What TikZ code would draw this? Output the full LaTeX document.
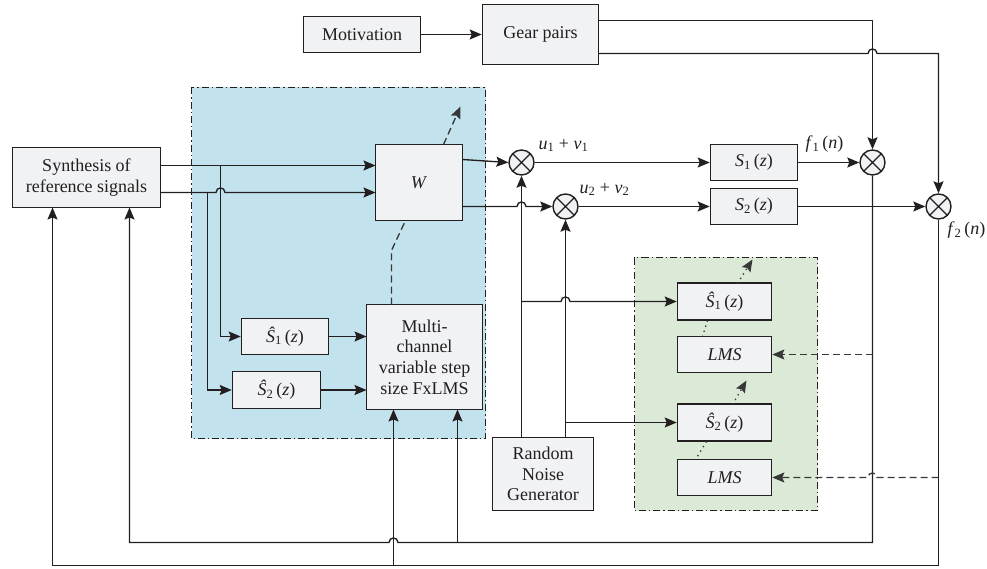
\documentclass[tikz,border=0pt]{standalone}
\usepackage{fontspec}
\setmainfont{Liberation Serif}
\usetikzlibrary{arrows.meta}
\definecolor{lc}{HTML}{231F20}
\definecolor{boxfill}{HTML}{F1F2F4}
\definecolor{bluefill}{HTML}{C2E2EE}
\definecolor{greenfill}{HTML}{DBEAD6}
\definecolor{dashc}{HTML}{383838}
\newcommand{\ShatZ}[1]{\textit{\^{S}}\textsubscript{#1}\,(\textit{z})}
\newcommand{\SofZ}[1]{\textit{S}\textsubscript{#1}\,(\textit{z})}
\begin{document}
\begin{tikzpicture}[x=1bp,y=-1bp, color=lc,
  font=\fontsize{18bp}{20.7bp}\selectfont,
  line width=1.35bp,
  box/.style={draw=lc, line width=1.6bp, fill=boxfill, inner sep=0pt, align=center, text=lc},
  sumc/.style={circle, draw=lc, line width=1.4bp, fill=boxfill, minimum size=25bp, inner sep=0pt,
    path picture={\draw[line width=1.35bp] (path picture bounding box.south west) -- (path picture bounding box.north east)
      (path picture bounding box.north west) -- (path picture bounding box.south east);}},
  arr/.style={-{Stealth[length=12bp,width=10bp,inset=2bp]}},
  region/.style={draw=lc, line width=1.3bp, dash pattern=on 7bp off 3bp on 1.3bp off 3bp},
  dsh/.style={draw=dashc, dash pattern=on 7bp off 4bp},
  dtt/.style={draw=dashc, dash pattern=on 1.3bp off 4bp},
  lbl/.style={text=lc, inner sep=0pt}
]
\useasboundingbox (0,0) rectangle (987,569);
\begin{scope}[shift={(0.5,0.5)}]
% regions
\path[region, fill=bluefill] (191,87) rectangle (485,438);
\path[region, fill=greenfill] (634,257) rectangle (817,510);

% nodes
\node[box, minimum width=117bp, minimum height=36bp] (mot) at (361.5,34) {Motivation};
\node[box, minimum width=116bp, minimum height=60bp] (gear) at (540,34) {Gear pairs};
\node[box, minimum width=148bp, minimum height=60bp] (syn) at (86,177) {Synthesis of\\reference signals};
\node[box, minimum width=87bp, minimum height=76bp] (W) at (418.5,182) {\textit{W}};
\node[box, minimum width=87bp, minimum height=36bp] (s1hb) at (284.5,336) {\ShatZ{1}};
\node[box, minimum width=88bp, minimum height=37bp] (s2hb) at (276,389.5) {\ShatZ{2}};
\node[box, minimum width=116bp, minimum height=105bp] (fx) at (424,356.5) {Multi-\\channel\\variable step\\size FxLMS};
\node[sumc] (su1) at (521,162) {};
\node[sumc] (su2) at (565,206) {};
\node[box, minimum width=87bp, minimum height=36bp] (S1) at (753.5,162) {\SofZ{1}};
\node[box, minimum width=87bp, minimum height=36bp] (S2) at (753.5,206) {\SofZ{2}};
\node[sumc] (sum1) at (872,162) {};
\node[sumc] (sum2) at (938,206) {};
\node[box, minimum width=101bp, minimum height=73bp] (rng) at (542.5,473.5) {Random\\Noise\\Generator};
\node[box, minimum width=94bp, minimum height=37bp] (s1hg) at (724,301) {\ShatZ{1}};
\node[box, minimum width=94bp, minimum height=36bp] (lms1) at (724,354) {\textit{LMS}};
\node[box, minimum width=94bp, minimum height=37bp] (s2hg) at (724,422) {\ShatZ{2}};
\node[box, minimum width=94bp, minimum height=36bp] (lms2) at (724,477) {\textit{LMS}};

% labels
\node[lbl] (lu1) at (563,145) {\textit{u}\textsubscript{1} + \textit{v}\textsubscript{1}};
\node[lbl] (lu2) at (604,189) {\textit{u}\textsubscript{2} + \textit{v}\textsubscript{2}};
\node[lbl] (lf1) at (824,144) {\textit{f}\textsubscript{1}\,(\textit{n})};
\node[lbl] (lf2) at (966,230) {\textit{f}\textsubscript{2}\,(\textit{n})};

% top connectors
\draw[arr] (mot.east) -- (gear.west);
\draw[arr] (598,20) -| (sum1.north);
\draw[arr] (598,53) -- (867.5,53) .. controls (867.5,47) and (876.5,47) .. (876.5,53) -| (sum2.north);

% synthesis outputs
\draw[arr] (160,165) -- (375,165);
\draw[arr] (160,192) -- (215.5,192) .. controls (215.5,186) and (224.5,186) .. (224.5,192) -- (375,192);
\draw[arr] (220,165) |- (s1hb.west);
\draw[arr] (207,192) |- (s2hb.west);
\draw[arr] (s1hb.east) -- (366,336);
\draw[arr] (s2hb.east) -- (366,389.5);

% adaptive dashed
\draw[dsh] (391,304) -- (391,250) -- (405,220);
\draw[dsh, arr] (443,144) -- (460,106);

% W outputs
\draw[arr] (462,159) -- (su1.west);
\draw[arr] (462,206) -- (516.5,206) .. controls (516.5,200) and (525.5,200) .. (525.5,206) -- (su2.west);
\draw[arr] (su1.east) -- (S1.west);
\draw[arr] (su2.east) -- (S2.west);
\draw[arr] (S1.east) -- (sum1.west);
\draw[arr] (S2.east) -- (sum2.west);

% random noise
\draw[arr] (521,437) -- (su1.south);
\draw[arr] (565,437) -- (su2.south);
\draw[arr] (521,301) -- (560.5,301) .. controls (560.5,295) and (569.5,295) .. (569.5,301) -- (s1hg.west);
\draw[arr] (565,422) -- (s2hg.west);

% error feedback
\draw[arr] (sum1.south) -- (872,542) -- (397.5,542) .. controls (397.5,536) and (388.5,536) .. (388.5,542) -- (129,542) -- (129,207);
\draw[arr] (457,542) -- (457,409);
\draw[arr] (sum2.south) -- (938,565) -- (52,565) -- (52,207);
\draw[arr] (393,565) -- (393,409);

% dashed to LMS
\draw[dsh, arr] (872,354) -- (lms1.east);
\draw[dsh, arr] (938,477) -- (876.5,477) .. controls (876.5,471) and (867.5,471) .. (867.5,477) -- (lms2.east);

% dotted
\draw[dtt] (707,320) -- (702,336);
\draw[dtt, arr] (737,283) -- (752,259);
\draw[dtt, arr] (732,404) -- (746,380);
\draw[dtt] (706,441) -- (695,459);
\end{scope}
\end{tikzpicture}
\end{document}
